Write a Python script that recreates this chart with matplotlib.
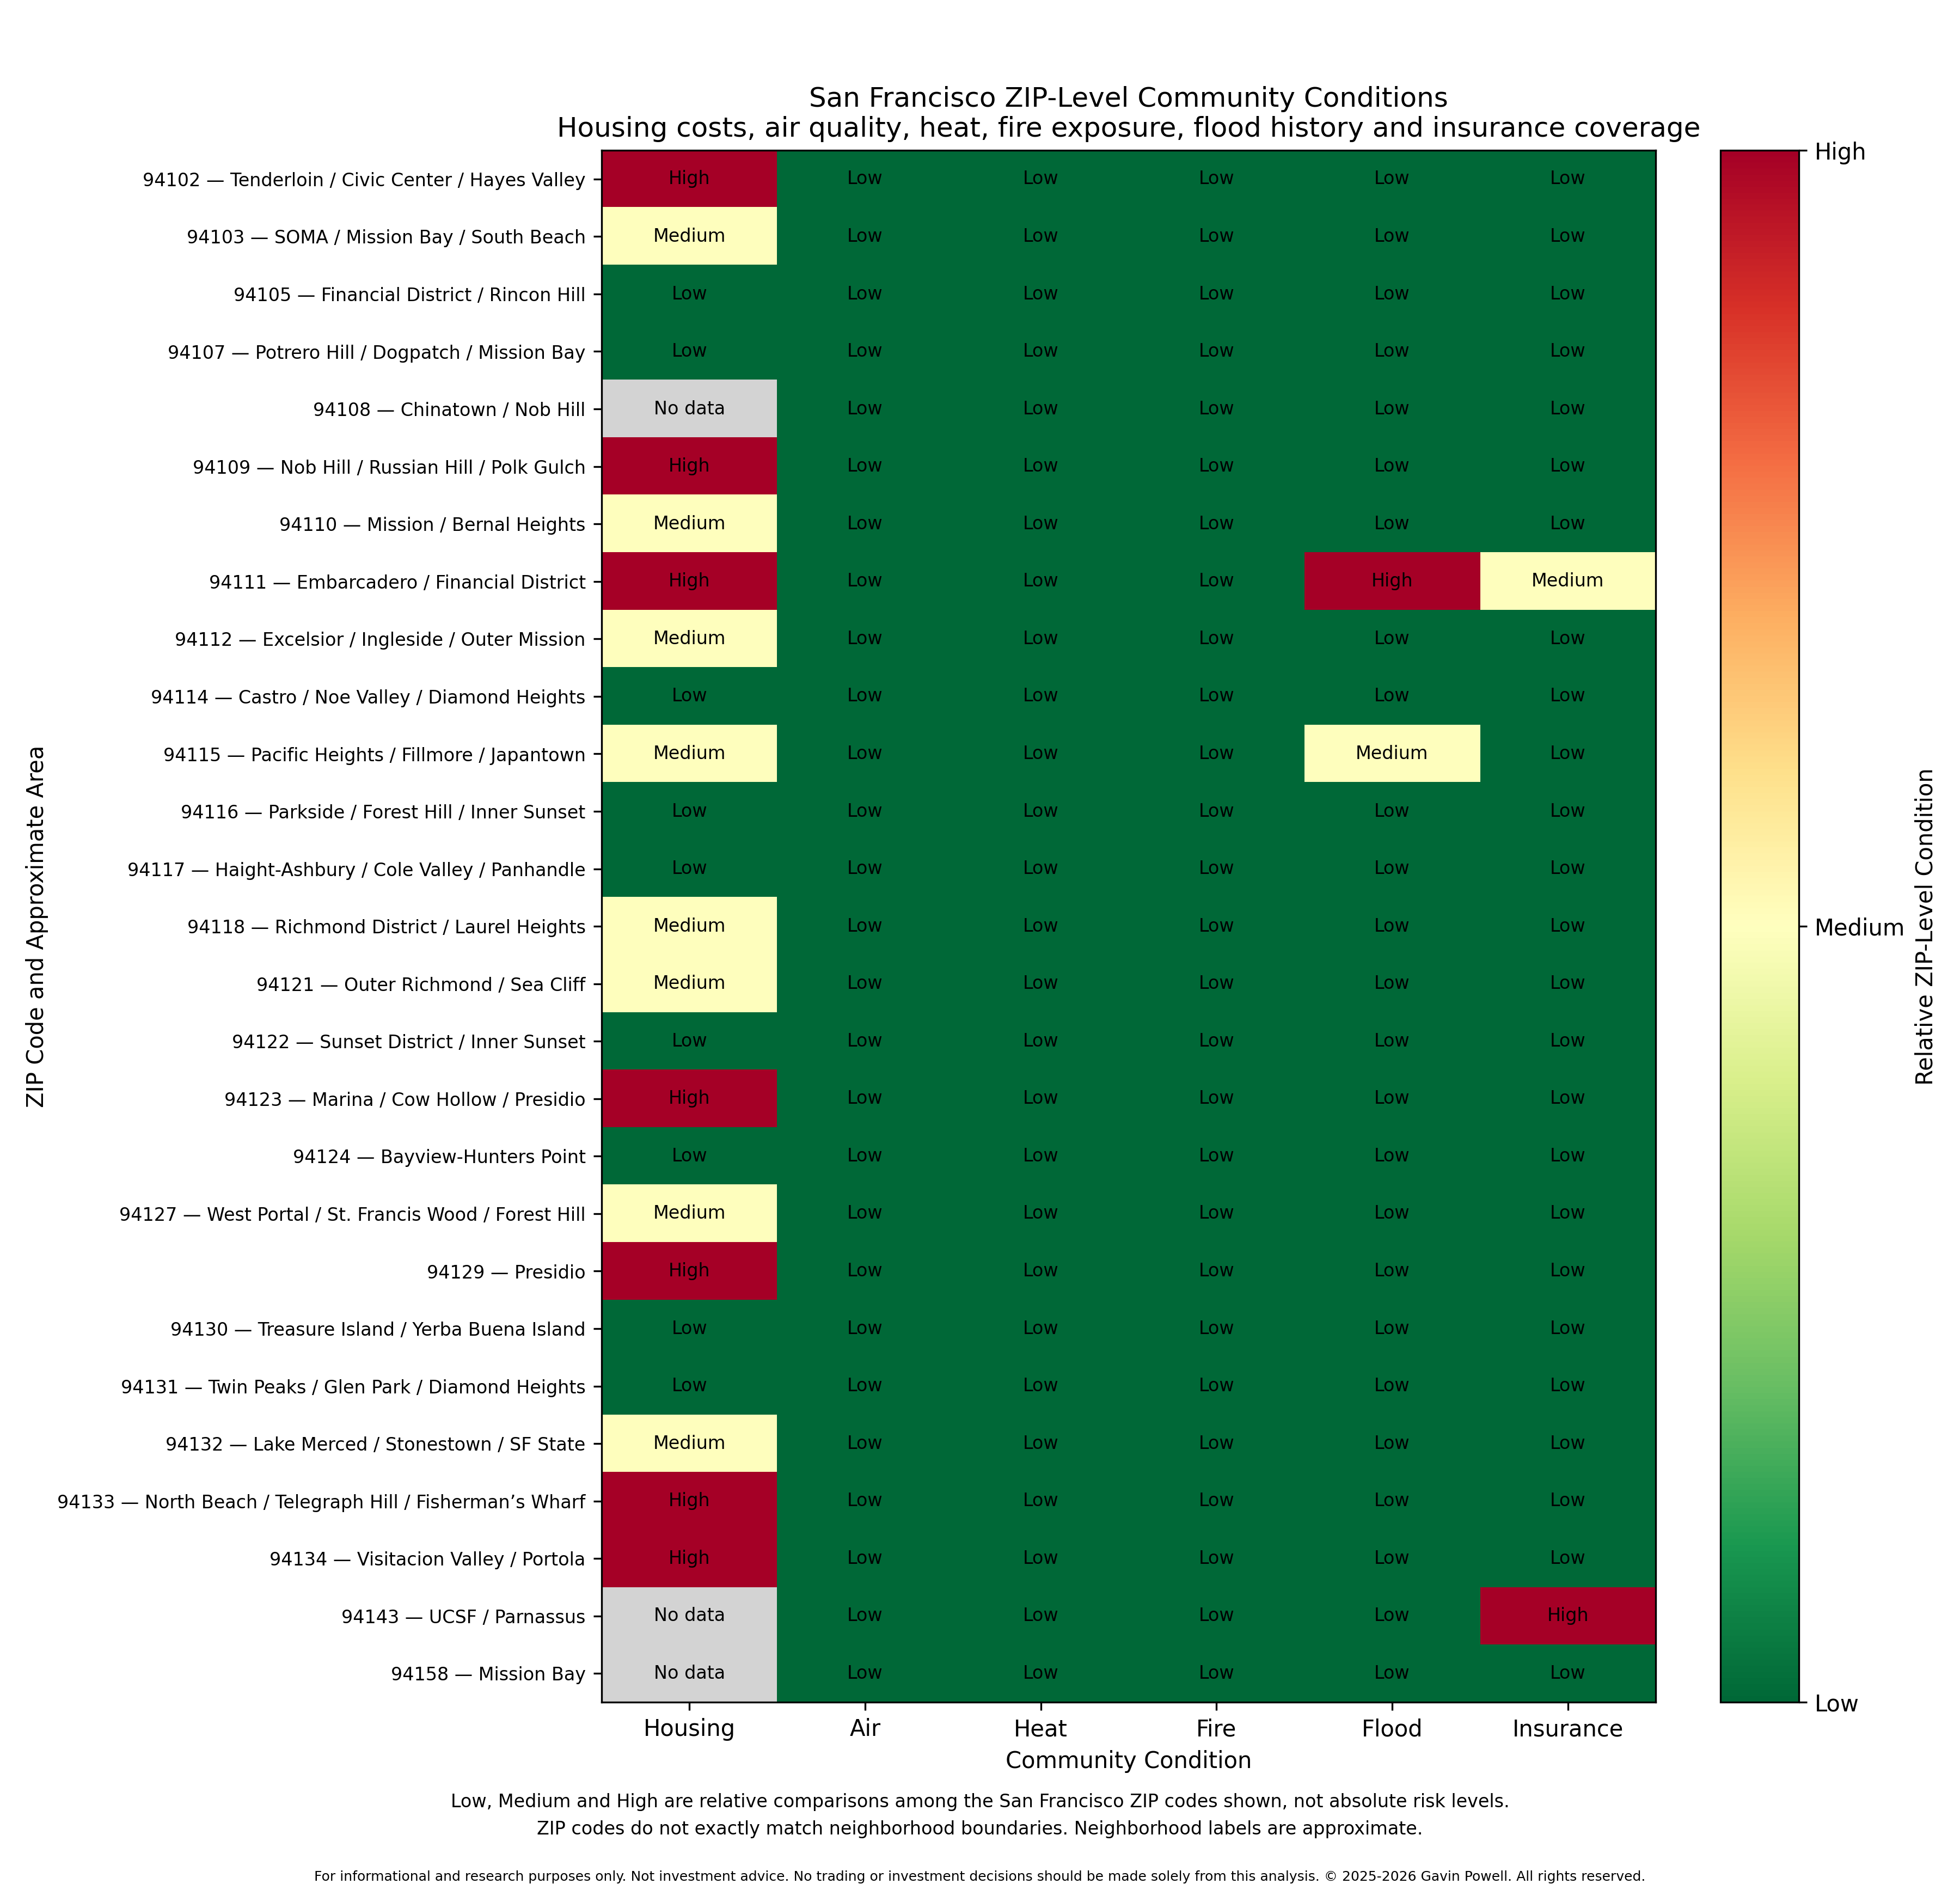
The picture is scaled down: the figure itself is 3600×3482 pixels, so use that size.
import numpy as np
import matplotlib
matplotlib.use("Agg")
from matplotlib import pyplot as plt

zips = ["94102", "94103", "94105", "94107", "94108", "94109", "94110", "94111",
        "94112", "94114", "94115", "94116", "94117", "94118", "94121", "94122",
        "94123", "94124", "94127", "94129", "94130", "94131", "94132", "94133",
        "94134", "94143", "94158"]
areas = ["Tenderloin / Civic Center / Hayes Valley",
         "SOMA / Mission Bay / South Beach",
         "Financial District / Rincon Hill",
         "Potrero Hill / Dogpatch / Mission Bay",
         "Chinatown / Nob Hill",
         "Nob Hill / Russian Hill / Polk Gulch",
         "Mission / Bernal Heights",
         "Embarcadero / Financial District",
         "Excelsior / Ingleside / Outer Mission",
         "Castro / Noe Valley / Diamond Heights",
         "Pacific Heights / Fillmore / Japantown",
         "Parkside / Forest Hill / Inner Sunset",
         "Haight-Ashbury / Cole Valley / Panhandle",
         "Richmond District / Laurel Heights",
         "Outer Richmond / Sea Cliff",
         "Sunset District / Inner Sunset",
         "Marina / Cow Hollow / Presidio",
         "Bayview-Hunters Point",
         "West Portal / St. Francis Wood / Forest Hill",
         "Presidio",
         "Treasure Island / Yerba Buena Island",
         "Twin Peaks / Glen Park / Diamond Heights",
         "Lake Merced / Stonestown / SF State",
         "North Beach / Telegraph Hill / Fisherman\u2019s Wharf",
         "Visitacion Valley / Portola",
         "UCSF / Parnassus",
         "Mission Bay"]

conditions = ["Housing", "Air", "Heat", "Fire", "Flood", "Insurance"]
level_names = ["Low", "Medium", "High"]

# 0 = Low, 1 = Medium, 2 = High, None = no data
housing = [2, 1, 0, 0, None, 2, 1, 2, 1, 0, 1, 0, 0, 1, 1, 0, 2, 0, 1, 2, 0, 0, 1, 2, 2, None, None]
air = [0] * 27
heat = [0] * 27
fire = [0] * 27
flood = [0, 0, 0, 0, 0, 0, 0, 2, 0, 0, 1, 0, 0, 0, 0, 0, 0, 0, 0, 0, 0, 0, 0, 0, 0, 0, 0]
insurance = [0, 0, 0, 0, 0, 0, 0, 1, 0, 0, 0, 0, 0, 0, 0, 0, 0, 0, 0, 0, 0, 0, 0, 0, 0, 2, 0]

cols = [housing, air, heat, fire, flood, insurance]
mat = np.array([[np.nan if v is None else v for v in c] for c in cols], dtype=float).T
labels = [z + " \u2014 " + a for z, a in zip(zips, areas)]

fig = plt.figure(figsize=(12, 11.607), dpi=300)
ax = fig.add_axes([0.3069, 0.1022, 0.5378, 0.8185])
cax = fig.add_axes([0.8778, 0.1022, 0.04, 0.8185])

cmap = plt.get_cmap("RdYlGn_r").copy()
cmap.set_bad("lightgray")
im = ax.imshow(np.ma.masked_invalid(mat), cmap=cmap, vmin=0, vmax=2, aspect="auto",
               interpolation="nearest")

for i in range(mat.shape[0]):
    for j in range(mat.shape[1]):
        v = mat[i, j]
        txt = "No data" if np.isnan(v) else level_names[int(v)]
        ax.text(j, i, txt, ha="center", va="center", fontsize=8, color="black")

ax.set_xticks(range(len(conditions)))
ax.set_xticklabels(conditions, fontsize=10)
ax.set_yticks(range(len(labels)))
ax.set_yticklabels(labels, fontsize=8)
ax.set_xlabel("Community Condition", fontsize=10)
ax.set_ylabel("ZIP Code and Approximate Area", fontsize=10)
ax.set_title("San Francisco ZIP-Level Community Conditions\n"
             "Housing costs, air quality, heat, fire exposure, flood history and insurance coverage",
             fontsize=12)

cb = fig.colorbar(im, cax=cax, ticks=[0, 1, 2])
cb.ax.set_yticklabels(level_names, fontsize=10)
cb.set_label("Relative ZIP-Level Condition", fontsize=10)

fig.text(0.5, 0.0425, "Low, Medium and High are relative comparisons among the San Francisco ZIP codes shown, "
         "not absolute risk levels.\nZIP codes do not exactly match neighborhood boundaries. "
         "Neighborhood labels are approximate.", ha="center", va="center", fontsize=8, linespacing=1.65)
fig.text(0.5, 0.0065, "For informational and research purposes only. Not investment advice. No trading or "
         "investment decisions should be made solely from this analysis. \u00a9 2025-2026 Gavin Powell. "
         "All rights reserved.", ha="center", va="bottom", fontsize=6)

fig.savefig("out.png", dpi=300)
